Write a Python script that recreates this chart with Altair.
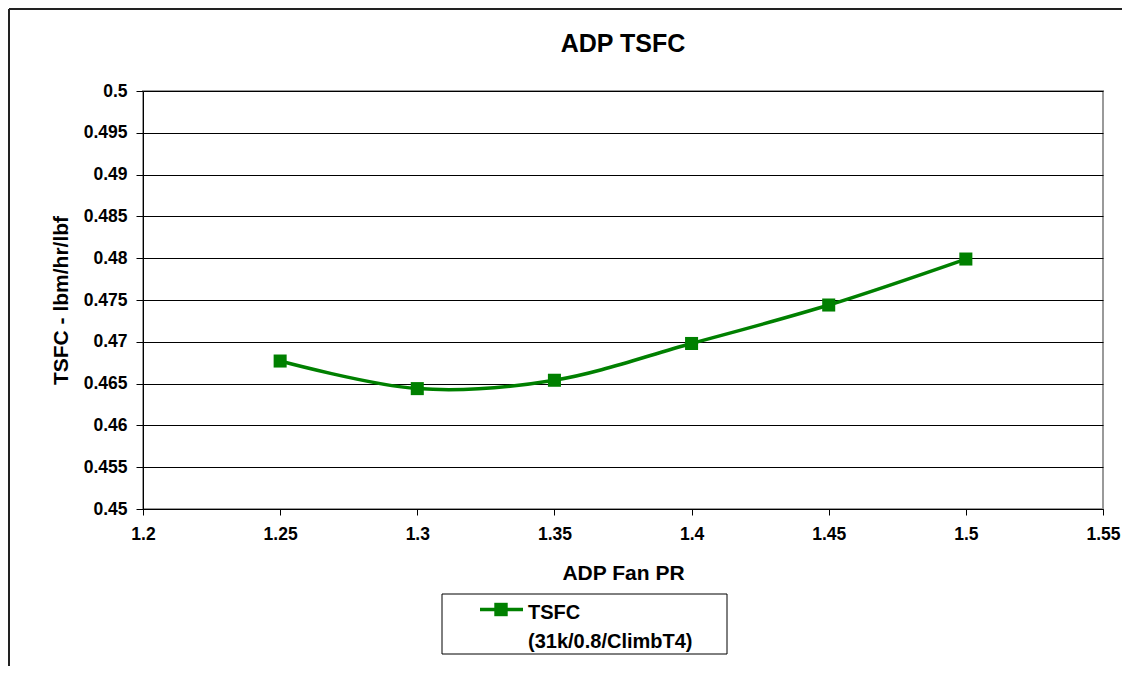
import altair as alt
import pandas as pd

# ---- data ----
fan_pr = [1.25, 1.30, 1.35, 1.40, 1.45, 1.50]
tsfc = [0.4677, 0.4644, 0.4654, 0.4698, 0.4744, 0.4799]
series = ["TSFC"] * len(fan_pr)
x_ticks = [1.2, 1.25, 1.3, 1.35, 1.4, 1.45, 1.5, 1.55]
y_ticks = [0.45, 0.455, 0.46, 0.465, 0.47, 0.475, 0.48, 0.485, 0.49, 0.495, 0.5]
legend_lines = ["TSFC", "(31k/0.8/ClimbT4)"]

df = pd.DataFrame({"fan_pr": fan_pr, "tsfc": tsfc, "series": series})

FONT = "Liberation Sans"
GREEN = "#008000"
W, H = 960, 418
PAD = {"left": 135, "top": 83, "right": 19, "bottom": 157}

x = alt.X(
    "fan_pr:Q",
    scale=alt.Scale(domain=[1.2, 1.55], nice=False, zero=False),
    axis=alt.Axis(
        title="ADP Fan PR",
        values=x_ticks,
        format="~g",
        grid=False,
        labelFlush=False,
        labelOverlap=False,
        tickSize=6,
        labelPadding=10,
        titleBaseline="alphabetic",
        titleY=70,
    ),
)
y = alt.Y(
    "tsfc:Q",
    scale=alt.Scale(domain=[0.45, 0.5], nice=False, zero=False),
    axis=alt.Axis(
        title="TSFC - lbm/hr/lbf",
        values=y_ticks,
        format="~g",
        grid=True,
        labelFlush=False,
        labelOverlap=False,
        tickSize=7,
        labelPadding=9,
        titleBaseline="alphabetic",
        titleX=-76,
        titleY=H / 2,
    ),
)

line = alt.Chart(df).mark_line(
    interpolate="cardinal",
    strokeWidth=3.5,
    color=GREEN,
    point=alt.OverlayMarkDef(shape="square", size=170, filled=True, opacity=1, color=GREEN),
).encode(x=x, y=y)

one = pd.DataFrame({"k": [0]})

# outer chart frame
frame_top = alt.Chart(one).mark_rule(color="#222222", strokeWidth=2).encode(
    x=alt.value(-PAD["left"] + 1), x2=alt.value(W + PAD["right"]), y=alt.value(-PAD["top"] + 1)
)
frame_left = alt.Chart(one).mark_rule(color="#222222", strokeWidth=2).encode(
    x=alt.value(-PAD["left"] + 1), y=alt.value(-PAD["top"] + 1), y2=alt.value(H + PAD["bottom"])
)

# legend box below the x-axis title
LX, LY, LW, LH = 299, 503, 285, 60
legend_box = alt.Chart(one).mark_rect(fill="white", stroke="black", strokeWidth=1).encode(
    x=alt.value(LX), x2=alt.value(LX + LW), y=alt.value(LY), y2=alt.value(LY + LH)
)
legend_line = alt.Chart(one).mark_rule(color=GREEN, strokeWidth=3.5).encode(
    x=alt.value(LX + 38), x2=alt.value(LX + 81), y=alt.value(LY + 15.5)
)
legend_pt = alt.Chart(one).mark_point(shape="square", size=180, filled=True, opacity=1, color=GREEN).encode(
    x=alt.value(LX + 59), y=alt.value(LY + 15.5)
)
legend_txt = alt.Chart(one).mark_text(
    text=legend_lines,
    font=FONT,
    fontSize=20,
    fontWeight="bold",
    color="black",
    align="left",
    baseline="alphabetic",
    lineHeight=29,
).encode(x=alt.value(LX + 86), y=alt.value(LY + 25))

chart = alt.layer(
    line, frame_top, frame_left, legend_box, legend_line, legend_pt, legend_txt
).properties(
    width=W,
    height=H,
    padding=PAD,
    background="white",
    autosize=alt.AutoSizeParams(type="none"),
    title=alt.Title(
        "ADP TSFC",
        font=FONT,
        fontSize=25,
        fontWeight="bold",
        color="black",
        anchor="middle",
        baseline="alphabetic",
        offset=-69,
    ),
).configure_view(
    stroke="#9a9a9a", strokeWidth=2
).configure_axis(
    labelFont=FONT,
    labelFontSize=17.5,
    labelFontWeight="bold",
    labelColor="black",
    titleFont=FONT,
    titleFontSize=21,
    titleFontWeight="bold",
    titleColor="black",
    domainColor="black",
    domainWidth=1,
    tickColor="black",
    tickWidth=1,
    gridColor="#000000",
    gridWidth=1,
    gridOpacity=1,
)

chart.save("out.html", embed_options={"renderer": "svg", "actions": False})
